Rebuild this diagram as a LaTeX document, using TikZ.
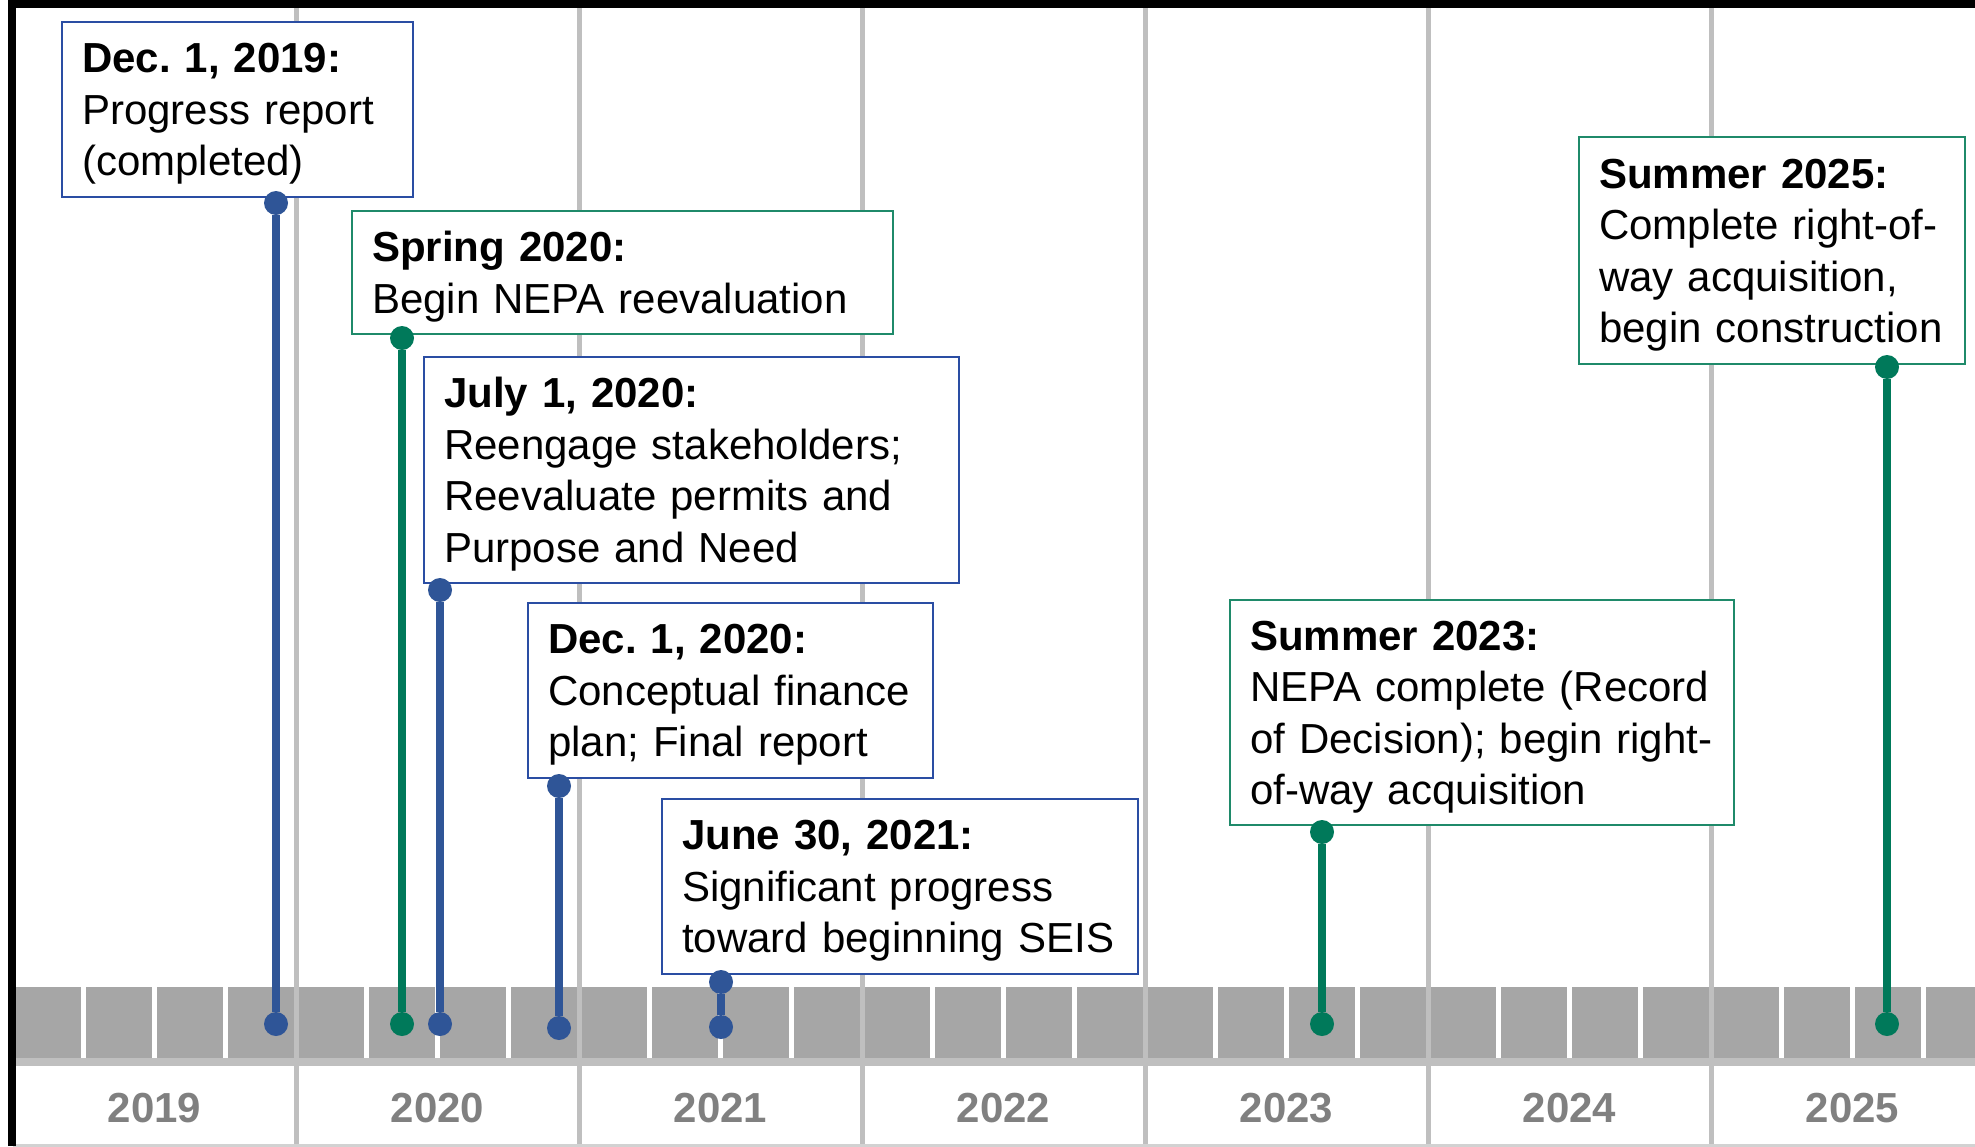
\documentclass[tikz,border=0pt]{standalone}
\usepackage{fontspec}
\setmainfont{Liberation Sans}
\frenchspacing
\definecolor{tlblue}{HTML}{2F5597}
\definecolor{tlgreen}{HTML}{00795A}
\definecolor{boxblue}{HTML}{2A4DA3}
\definecolor{boxgreen}{HTML}{1F8A6A}
\definecolor{bargrey}{HTML}{A6A6A6}
\definecolor{gridgrey}{HTML}{BFBFBF}
\definecolor{yeargrey}{HTML}{808080}
\newcommand{\evhead}[1]{\rule{0pt}{19pt}\textbf{#1}}

\begin{document}
\begin{tikzpicture}[x=0.5pt, y=-0.5pt,
  event/.style={draw, fill=white, line width=1.2pt, anchor=north west, align=left,
    inner xsep=10pt, inner ysep=2pt, font=\fontsize{21pt}{25.75pt}\selectfont},
  blueev/.style={event, draw=boxblue},
  greenev/.style={event, draw=boxgreen},
  evdot/.style={circle, inner sep=0pt, minimum size=12pt},
  bluedot/.style={evdot, fill=tlblue},
  greendot/.style={evdot, fill=tlgreen},
  stem/.style={line width=4pt},
  gridline/.style={gridgrey, line width=2.5pt},
  yearlbl/.style={yeargrey, font=\fontsize{21pt}{25pt}\selectfont\bfseries}
  ]
  \useasboundingbox (0,0) rectangle (1975,1146);
  \fill[white] (0,0) rectangle (1975,1146);

  % year grid and quarter bar
  \foreach \k in {1,...,6}
    \draw[gridline] ({13+283*\k},8) -- ({13+283*\k},1146);
  \foreach \q in {0,...,27}
    \fill[bargrey] ({13+70.75*\q+2.5},987) rectangle ({13+70.75*(\q+1)-2.5},1058);
  \draw[gridgrey, line width=4pt] (13,1062) -- (1975,1062);
  \draw[gridgrey!70, line width=1.5pt] (13,1145) -- (1975,1145);
  \foreach \yr [count=\k from 0] in {2019,...,2025}
    \node[yearlbl] (y\yr) at ({13+283*(\k+0.5)},1108) {\yr};

  % frame
  \draw[black, line width=4pt] (11.5,1146) -- (11.5,4) -- (1975,4);

  % milestones
  \node[blueev, text width=155.5pt, minimum height=87.5pt] (dec19) at (61,21)
    {\evhead{Dec. 1, 2019:}\\Progress report\\(completed)};
  \node[greenev, text width=250.5pt, minimum height=61.5pt] (spr20) at (351,210)
    {\evhead{Spring 2020:}\\Begin NEPA reevaluation};
  \node[blueev, text width=247.5pt, minimum height=113pt] (jul20) at (423,356)
    {\evhead{July 1, 2020:}\\Reengage stakeholders;\\Reevaluate permits and\\Purpose and Need};
  \node[blueev, text width=182.5pt, minimum height=87.5pt] (dec20) at (527,602)
    {\evhead{Dec. 1, 2020:}\\Conceptual finance\\plan; Final report};
  \node[blueev, text width=218pt, minimum height=87.5pt] (jun21) at (661,798)
    {\evhead{June 30, 2021:}\\Significant progress\\toward beginning SEIS};
  \node[greenev, text width=232pt, minimum height=112.5pt] (sum23) at (1229,599)
    {\evhead{Summer 2023:}\\NEPA complete (Record\\of Decision); begin right-\\of-way acquisition};
  \node[greenev, text width=173pt, minimum height=113.5pt] (sum25) at (1578,136)
    {\evhead{Summer 2025:}\\Complete right-of-\\way acquisition,\\begin construction};

  % stems
  \node[bluedot] (dec19-top) at (276,203) {};
  \node[bluedot] (dec19-bot) at (276,1024) {};
  \node[greendot] (spr20-top) at (402,338) {};
  \node[greendot] (spr20-bot) at (402,1024) {};
  \node[bluedot] (jul20-top) at (440,590) {};
  \node[bluedot] (jul20-bot) at (440,1024) {};
  \node[bluedot] (dec20-top) at (559,786) {};
  \node[bluedot] (dec20-bot) at (559,1028) {};
  \node[bluedot] (jun21-top) at (721,982) {};
  \node[bluedot] (jun21-bot) at (721,1027) {};
  \node[greendot] (sum23-top) at (1322,832) {};
  \node[greendot] (sum23-bot) at (1322,1024) {};
  \node[greendot] (sum25-top) at (1887,367) {};
  \node[greendot] (sum25-bot) at (1887,1024) {};
  \foreach \ev/\col in {dec19/tlblue, spr20/tlgreen, jul20/tlblue, dec20/tlblue,
                        jun21/tlblue, sum23/tlgreen, sum25/tlgreen}
    \draw[stem, \col] (\ev-top) -- (\ev-bot);
\end{tikzpicture}
\end{document}
